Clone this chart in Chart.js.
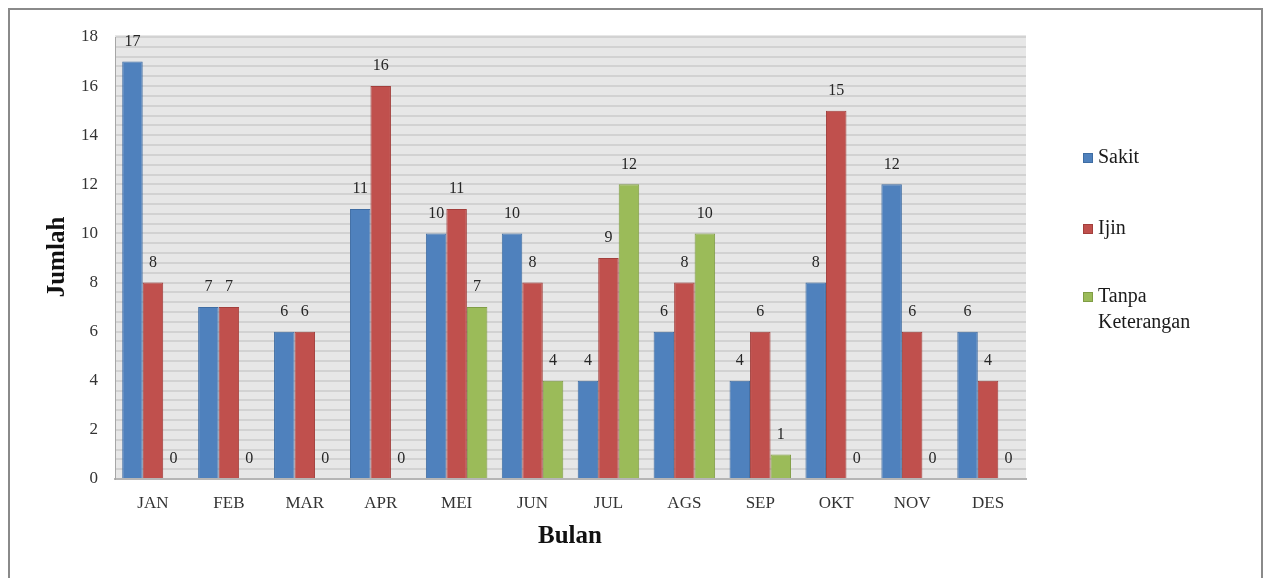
<!DOCTYPE html>
<html>
<head>
<meta charset="utf-8">
<script src="https://cdn.jsdelivr.net/npm/chart.js@4.4.1/dist/chart.umd.min.js"></script>
<style>
  html, body { margin: 0; padding: 0; background: #ffffff; }
  canvas { display: block; }
</style>
</head>
<body>
<canvas id="chart" width="1265" height="578"></canvas>
<script>
// Monthly absence counts
const months = ['JAN', 'FEB', 'MAR', 'APR', 'MEI', 'JUN', 'JUL', 'AGS', 'SEP', 'OKT', 'NOV', 'DES'];
const sakit = [17, 7, 6, 11, 10, 10, 4, 6, 4, 8, 12, 6];
const ijin = [8, 7, 6, 16, 11, 8, 9, 8, 6, 15, 6, 4];
const tanpaKeterangan = [0, 0, 0, 0, 7, 4, 12, 10, 1, 0, 0, 0];
const seriesNames = ['Sakit', 'Ijin', 'Tanpa Keterangan'];
const yTickLabels = [0, 2, 4, 6, 8, 10, 12, 14, 16, 18];
const axisTitleY = 'Jumlah';
const axisTitleX = 'Bulan';

const SERIF = '"Liberation Serif", "DejaVu Serif", "Times New Roman", serif';
const colors = ['#4f81bd', '#c0504d', '#9bbb59'];
const borders = ['#3f6da3', '#a33f3c', '#809d45'];

// Light grey plot background plus white page and outer frame
const backdrop = {
  id: 'backdrop',
  beforeDraw(chart) {
    const { ctx, chartArea: a } = chart;
    ctx.save();
    ctx.fillStyle = '#ffffff';
    ctx.fillRect(0, 0, chart.width, chart.height);
    ctx.fillStyle = '#e7e7e7';
    ctx.fillRect(a.left, a.top - 2, a.right - a.left, a.bottom - a.top + 2);
    ctx.restore();
  },
  afterDraw(chart) {
    const { ctx } = chart;
    ctx.save();
    ctx.strokeStyle = '#8a8a8a';
    ctx.lineWidth = 2;
    ctx.strokeRect(9, 9, 1253, 620);
    ctx.restore();
  }
};

// Value written above each bar
const valueLabels = {
  id: 'valueLabels',
  afterDatasetsDraw(chart) {
    const { ctx } = chart;
    ctx.save();
    ctx.font = '16px ' + SERIF;
    ctx.fillStyle = '#262626';
    ctx.textAlign = 'center';
    ctx.textBaseline = 'middle';
    chart.data.datasets.forEach((ds, i) => {
      const meta = chart.getDatasetMeta(i);
      meta.data.forEach((bar, j) => {
        ctx.fillText(String(ds.data[j]), bar.x, bar.y - 20);
      });
    });
    ctx.restore();
  }
};

// Axis titles and the legend on the right
const annotations = {
  id: 'annotations',
  afterDraw(chart) {
    const { ctx } = chart;
    ctx.save();
    ctx.fillStyle = '#111111';
    ctx.font = 'bold 25px ' + SERIF;
    ctx.textAlign = 'center';
    ctx.textBaseline = 'middle';
    ctx.fillText(axisTitleX, 570, 537);
    ctx.translate(58, 257);
    ctx.rotate(-Math.PI / 2);
    ctx.fillText(axisTitleY, 0, 0);
    ctx.restore();

    ctx.save();
    ctx.font = '20px ' + SERIF;
    ctx.textBaseline = 'middle';
    ctx.textAlign = 'left';
    const rowsY = [158, 229, 297];
    chart.data.datasets.forEach((ds, i) => {
      const y = rowsY[i];
      ctx.fillStyle = colors[i];
      ctx.fillRect(1083, y - 5, 10, 10);
      ctx.strokeStyle = borders[i];
      ctx.lineWidth = 1;
      ctx.strokeRect(1083.5, y - 4.5, 9, 9);
      ctx.fillStyle = '#1a1a1a';
      const words = ds.label.split(' ');
      if (words.length > 1) {
        ctx.fillText(words[0], 1098, y);
        ctx.fillText(words.slice(1).join(' '), 1098, y + 26);
      } else {
        ctx.fillText(ds.label, 1098, y);
      }
    });
    ctx.restore();
  }
};

const seriesValues = [sakit, ijin, tanpaKeterangan];

new Chart(document.getElementById('chart'), {
  type: 'bar',
  data: {
    labels: months,
    datasets: seriesValues.map((vals, i) => ({
      label: seriesNames[i],
      data: vals,
      backgroundColor: colors[i],
      borderColor: borders[i],
      borderWidth: 1,
      categoryPercentage: 0.81,
      barPercentage: 1.0
    }))
  },
  options: {
    responsive: false,
    animation: false,
    layout: { padding: { left: 0, top: 37, right: 239, bottom: 0 } },
    plugins: {
      legend: { display: false },
      tooltip: { enabled: false }
    },
    scales: {
      x: {
        grid: { display: false, drawTicks: false },
        border: { display: true, color: '#b5b5b5', width: 2 },
        ticks: {
          color: '#333333',
          font: { family: SERIF, size: 17 },
          padding: 14
        },
        afterFit(scale) { scale.height = 99; }
      },
      y: {
        min: 0,
        max: 18,
        grid: { color: '#d2d2d2', lineWidth: 2, drawTicks: false },
        border: { display: true, color: '#a6a6a6', width: 1 },
        ticks: {
          stepSize: 0.4,
          autoSkip: false,
          color: '#333333',
          font: { family: SERIF, size: 17 },
          padding: 17,
          callback(value) {
            const hit = yTickLabels.find(t => Math.abs(t - value) < 1e-6);
            return hit === undefined ? '' : String(hit);
          }
        },
        afterFit(scale) { scale.width = 115; }
      }
    }
  },
  plugins: [backdrop, valueLabels, annotations]
});
</script>
</body>
</html>
